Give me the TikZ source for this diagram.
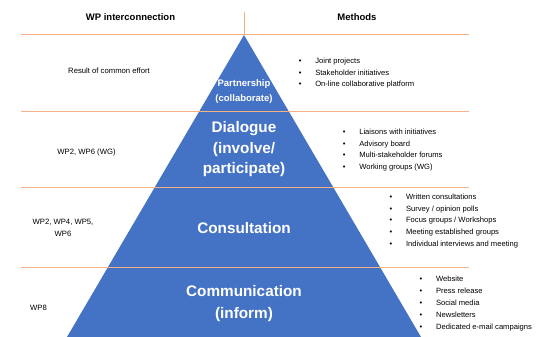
\documentclass[tikz,border=0pt]{standalone}
\usepackage{fontspec}
\setmainfont{Liberation Sans}
\definecolor{pyrblue}{HTML}{4472C4}
\definecolor{sepor}{HTML}{F4B183}
\newcommand\lbul{\makebox[16.5pt][l]{•}}
\begin{document}
\begin{tikzpicture}[x=1pt,y=-1pt,
  hdr/.style={font=\fontsize{9.5}{11}\selectfont\bfseries, inner sep=0},
  lft/.style={font=\fontsize{7.7}{11.7}\selectfont, inner sep=0, align=center},
  lvl/.style={text=white, inner sep=0, align=center},
  lst/.style={anchor=base west, inner sep=0, font=\fontsize{7.6}{11.8}\selectfont},
  sepline/.style={draw=sepor, line width=0.9pt}]
\useasboundingbox (0,0) rectangle (544,337);
\fill[white] (0,0) rectangle (544,337);
% pyramid
\coordinate (apex) at (244,35);
\coordinate (bl) at (67,337);
\coordinate (br) at (421,337);
\fill[pyrblue] (apex) -- (br) -- (bl) -- cycle;
% separators
\foreach \yy in {34,111,187,267} \draw[sepline] (21,\yy) -- (469,\yy);
\coordinate (vtop) at (244,12.5);
\coordinate (vbot) at (244,34);
\draw[sepline] (vtop) -- (vbot);
% headers
\node[hdr] (h1) at (130.5,16.7) {WP interconnection};
\node[hdr] (h2) at (357,16.7) {Methods};
% left
\node[lft] (l1) at (109,71) {Result of common effort};
\node[lft] (l2) at (86.5,153) {WP2, WP6 (WG)};
\node[lft] (l3) at (63,228) {WP2, WP4, WP5,\\WP6};
\node[lft] (l4) at (38.5,308) {WP8};
% levels
\node[lvl, font=\fontsize{9.5}{15}\selectfont\bfseries] (p1) at (244,91.7) {Partnership\\(collaborate)};
\node[lvl, font=\fontsize{15.3}{20.5}\selectfont\bfseries] (p2) at (244,149.5) {Dialogue\\(involve/\\participate)};
\node[lvl, font=\fontsize{15.3}{20.5}\selectfont\bfseries] (p3) at (244,228) {Consultation};
\node[lvl, font=\fontsize{15.3}{22}\selectfont\bfseries] (p4) at (244,304) {Communication\\(inform)};
% methods
\node[lst] (m1) at (298.6,63.3) {\begin{tabular}[t]{@{}l@{}}\lbul Joint projects\\ \lbul Stakeholder initiatives\\ \lbul On-line collaborative platform\end{tabular}};
\node[lst] (m2) at (342.6,134.3) {\begin{tabular}[t]{@{}l@{}}\lbul Liaisons with initiatives\\ \lbul Advisory board\\ \lbul Multi-stakeholder forums\\ \lbul Working groups (WG)\end{tabular}};
\node[lst] (m3) at (389.4,199.3) {\begin{tabular}[t]{@{}l@{}}\lbul Written consultations\\ \lbul Survey / opinion polls\\ \lbul Focus groups / Workshops\\ \lbul Meeting established groups\\ \lbul Individual interviews and meeting\end{tabular}};
\node[lst] (m4) at (419.4,281.9) {\begin{tabular}[t]{@{}l@{}}\lbul Website\\ \lbul Press release\\ \lbul Social media\\ \lbul Newsletters\\ \lbul Dedicated e-mail campaigns\end{tabular}};
\end{tikzpicture}
\end{document}
